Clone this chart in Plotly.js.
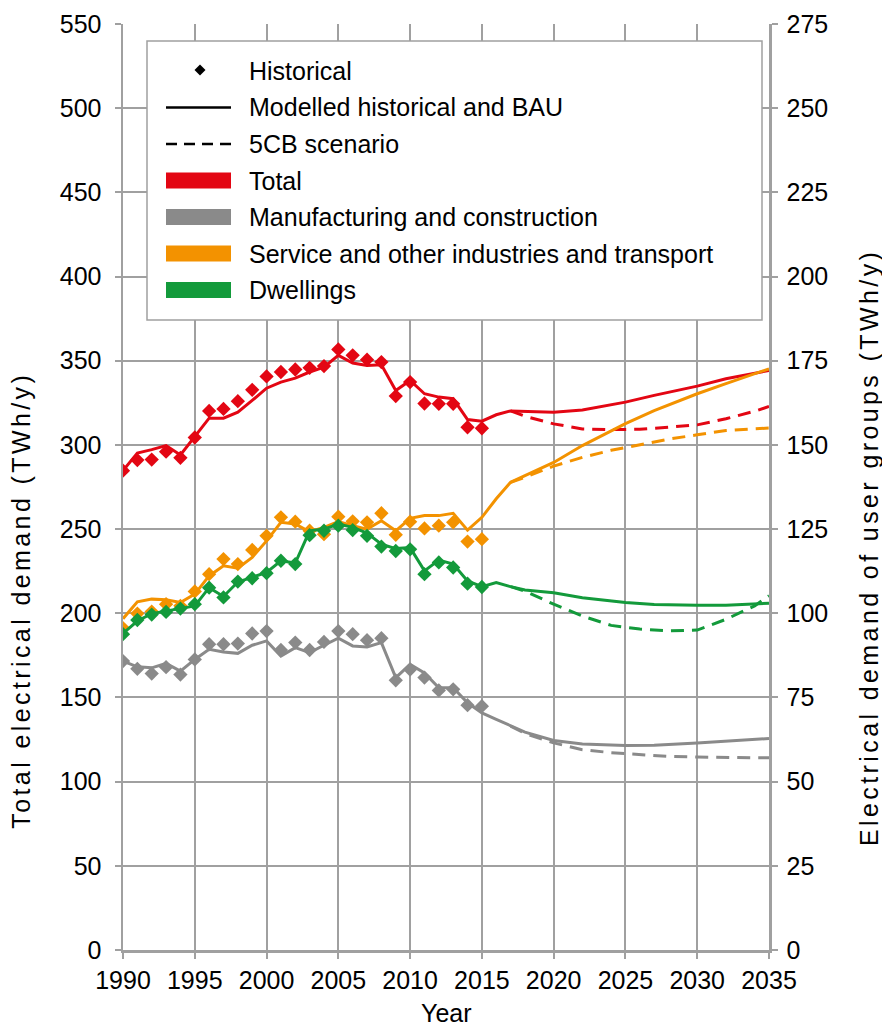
<!DOCTYPE html>
<html>
<head>
<meta charset="utf-8">
<script src="https://cdn.plot.ly/plotly-3.0.1.min.js"></script>
<style>html,body{margin:0;padding:0;background:#fff;}#chart{width:882px;height:1030px;}</style>
</head>
<body>
<div id="chart"></div>
<script>
// ---------- data ----------
var histYears = [1990,1991,1992,1993,1994,1995,1996,1997,1998,1999,2000,2001,2002,2003,2004,2005,2006,2007,2008,2009,2010,2011,2012,2013,2014,2015];
var histTotal = [284.7,291,291.3,296,292.3,304.4,320.2,321.4,326,332.7,340.7,343.3,344.8,345.8,346.8,356.7,353.2,350.6,349.2,329,337.3,324.6,324.4,324.4,310.5,309.9];
var histManuf = [85.8,83.5,82.1,84,81.8,86.3,90.8,90.8,91,94,94.7,89.1,91.3,89.1,91.5,94.7,93.8,92,92.6,80.1,83.3,80.9,77.1,77.4,72.7,72.4];
var histService = [95.6,99.9,100.5,102.7,102.2,106.5,111.6,116.1,114.6,118.8,123,128.5,127.2,124.5,123.5,128.7,127.3,127,129.7,123.3,127.2,125.2,126,127,121.3,122];
var histDwell = [93.8,98,99.6,100.4,101.4,102.7,107.6,104.7,109.4,110.4,111.9,115.6,114.6,123.2,124.5,126,124.7,123,119.8,118.5,119,111.6,115.1,113.6,108.8,107.8];

var modelYears = [1990,1991,1992,1993,1994,1995,1996,1997,1998,1999,2000,2001,2002,2003,2004,2005,2006,2007,2008,2009,2010,2011,2012,2013,2014,2015,2016,2017,2018,2020,2022,2025,2027,2030,2032,2035];
var modelTotal = [284.7,295.2,297.2,299.6,294,304.6,315.9,315.9,319.4,326.4,333.7,337.3,339.7,343.3,346.2,353.2,348.6,347.2,347.6,332.3,338.3,330.4,328.4,327.4,315.1,314.1,317.9,320.2,319.8,319.4,320.8,325.4,329.4,334.9,339.3,344.2];
var modelManuf = [85.8,84.1,83.8,85.1,82.8,86.3,89.3,88.5,88.1,90.5,91.8,87.3,89.8,88.3,90.5,92.6,90.3,90,91.3,80.9,84.8,82.3,77.9,77.9,73.4,70.4,68.5,66.5,64.7,62.2,61.2,60.7,60.8,61.5,62,62.8];
var modelService = [98.4,103.4,104.2,104,103.2,105.7,111.1,114.1,113.4,116.6,121.5,127,126.5,124.2,125.5,127.2,126,125,127.5,124.5,128.2,129,129,129.7,124.7,128.5,134,138.9,140.9,144.8,149.8,156.3,160.2,165.2,168.2,172.6];
var modelDwell = [94,97.7,99.9,100.7,101.4,102.2,107.6,105,109.3,110.6,112.1,115.6,114.9,124.5,125,126.5,125.5,123.8,120.5,119.2,119.5,112.6,115.8,114.6,109.6,107.9,109.1,107.9,106.9,106.1,104.6,103.2,102.6,102.4,102.4,103];

var scenYears = [2017,2018,2020,2022,2024,2026,2028,2030,2032,2034,2035];
var scenTotal = [320.2,317,312.5,309.5,309.1,309.3,310.5,311.9,315.5,320,322.8];
var scenManuf = [66.5,64.3,61.5,59.5,58.6,58,57.5,57.3,57.1,57.1,57.1];
var scenService = [138.9,140.4,143.7,146.3,148.4,150.1,151.7,153,154.3,154.8,155];
var scenDwell = [107.9,106.6,102.7,99.2,96.4,95.3,94.8,95,98.2,102.2,105.2];

var xTicks = [1990,1995,2000,2005,2010,2015,2020,2025,2030,2035];
var legendLabels = ['Historical','Modelled historical and BAU','5CB scenario','Total','Manufacturing and construction','Service and other industries and transport','Dwellings'];
var xTitle = 'Year';
var yTitleLeft = 'Total electrical demand (TWh/y)';
var yTitleRight = 'Electrical demand of user groups (TWh/y)';

// ---------- styles ----------
var RED = '#e30613', GRAY = '#8a8a8a', ORANGE = '#f39200', GREEN = '#139a3b';
var FONT = 'Liberation Sans, Arial, sans-serif';
var GRID = '#a0a0a0';
var LW = 3, DASH = '13px,8px', MS = 11;

function line(x, y, color, yaxis, dash) {
  return {x: x, y: y, type: 'scatter', mode: 'lines', yaxis: yaxis, showlegend: false, hoverinfo: 'skip',
          line: {color: color, width: LW, dash: dash || 'solid'}};
}
function pts(x, y, color, yaxis) {
  return {x: x, y: y, type: 'scatter', mode: 'markers', yaxis: yaxis, showlegend: false, hoverinfo: 'skip',
          marker: {symbol: 'diamond', size: MS, color: color}};
}

var traces = [
  line(scenYears, scenTotal, RED, 'y', DASH),
  line(modelYears, modelTotal, RED, 'y'),
  pts(histYears, histTotal, RED, 'y'),
  line(scenYears, scenManuf, GRAY, 'y2', DASH),
  line(modelYears, modelManuf, GRAY, 'y2'),
  pts(histYears, histManuf, GRAY, 'y2'),
  line(scenYears, scenService, ORANGE, 'y2', DASH),
  line(modelYears, modelService, ORANGE, 'y2'),
  pts(histYears, histService, ORANGE, 'y2'),
  line(scenYears, scenDwell, GREEN, 'y2', DASH),
  line(modelYears, modelDwell, GREEN, 'y2'),
  pts(histYears, histDwell, GREEN, 'y2')
];

// ---------- custom legend (paper coordinates) ----------
var L = 123, T = 24, PW = 646, PH = 926;
function px(x) { return (x - L) / PW; }
function py(y) { return (T + PH - y) / PH; }
var shapes = [], annotations = [];
shapes.push({type: 'rect', xref: 'paper', yref: 'paper', x0: px(147), x1: px(762), y0: py(320), y1: py(41),
             line: {color: GRID, width: 1.5}, fillcolor: '#ffffff', layer: 'above'});
var rowY = [71, 107.5, 144, 180.5, 217, 253.5, 290];
var symX0 = 166, symX1 = 231, textX = 247;
var dcx = 200, dcy = rowY[0] - 1, dr = 5.5;
shapes.push({type: 'path', xref: 'paper', yref: 'paper', layer: 'above',
  path: 'M' + px(dcx) + ',' + py(dcy - dr) + ' L' + px(dcx + dr) + ',' + py(dcy) + ' L' + px(dcx) + ',' + py(dcy + dr) + ' L' + px(dcx - dr) + ',' + py(dcy) + ' Z',
  fillcolor: '#000', line: {width: 0}});
shapes.push({type: 'line', xref: 'paper', yref: 'paper', layer: 'above', x0: px(symX0), x1: px(symX1), y0: py(rowY[1]), y1: py(rowY[1]),
  line: {color: '#000', width: 2.5}});
shapes.push({type: 'line', xref: 'paper', yref: 'paper', layer: 'above', x0: px(symX0), x1: px(symX1), y0: py(rowY[2]), y1: py(rowY[2]),
  line: {color: '#000', width: 2.5, dash: '11px,7px'}});
var rectColors = [RED, GRAY, ORANGE, GREEN];
for (var i = 0; i < 4; i++) {
  var ry = rowY[3 + i];
  shapes.push({type: 'rect', xref: 'paper', yref: 'paper', layer: 'above', x0: px(symX0), x1: px(symX1), y0: py(ry + 8), y1: py(ry - 8),
    fillcolor: rectColors[i], line: {width: 0}});
}
for (var j = 0; j < legendLabels.length; j++) {
  annotations.push({xref: 'paper', yref: 'paper', x: px(textX), y: py(rowY[j]), xanchor: 'left', yanchor: 'middle',
    text: legendLabels[j], showarrow: false, font: {family: FONT, size: 25, color: '#000'}});
}
// axis titles as annotations
annotations.push({xref: 'paper', yref: 'paper', x: px(446), y: py(1013), xanchor: 'center', yanchor: 'middle',
  text: xTitle, showarrow: false, font: {family: FONT, size: 25, color: '#000'}});
annotations.push({xref: 'paper', yref: 'paper', x: px(21), y: py(600), xanchor: 'center', yanchor: 'middle', textangle: -90,
  text: yTitleLeft, showarrow: false, font: {family: FONT, size: 25, color: '#000'}});
annotations.push({xref: 'paper', yref: 'paper', x: px(869), y: py(548), xanchor: 'center', yanchor: 'middle', textangle: -90,
  text: yTitleRight, showarrow: false, font: {family: FONT, size: 25, color: '#000'}});

var axisCommon = {
  showline: true, linecolor: GRID, linewidth: 2.5, ticks: 'outside', ticklen: 6, tickwidth: 2, tickcolor: GRID,
  tickfont: {family: FONT, size: 25, color: '#000'}, zeroline: false, fixedrange: true
};

var layout = {
  width: 882, height: 1030,
  margin: {l: L, r: 882 - L - PW, t: T, b: 1030 - T - PH, autoexpand: false},
  paper_bgcolor: '#fff', plot_bgcolor: '#fff',
  font: {family: FONT, color: '#000'},
  showlegend: false,
  xaxis: Object.assign({}, axisCommon, {
    range: [1990, 2035], tickmode: 'array', tickvals: xTicks, ticktext: xTicks.map(String),
    showgrid: true, gridcolor: GRID, gridwidth: 2
  }),
  yaxis: Object.assign({}, axisCommon, {
    range: [0, 550], tick0: 0, dtick: 50, showgrid: true, gridcolor: GRID, gridwidth: 2, ticklabelstandoff: 8
  }),
  yaxis2: Object.assign({}, axisCommon, {
    overlaying: 'y', side: 'right', range: [0, 275], tick0: 0, dtick: 25, showgrid: false, ticklabelstandoff: 4
  }),
  shapes: shapes,
  annotations: annotations
};

Plotly.newPlot('chart', traces, layout, {staticPlot: true, displayModeBar: false}).then(function (gd) {
  // the reference axis titles are set with wider letter spacing
  var texts = gd.querySelectorAll('.annotation-text');
  texts.forEach(function (t) {
    var s = t.textContent;
    if (s === yTitleLeft || s === yTitleRight) {
      t.style.letterSpacing = '3.4px';
    }
  });
});
</script>
</body>
</html>
